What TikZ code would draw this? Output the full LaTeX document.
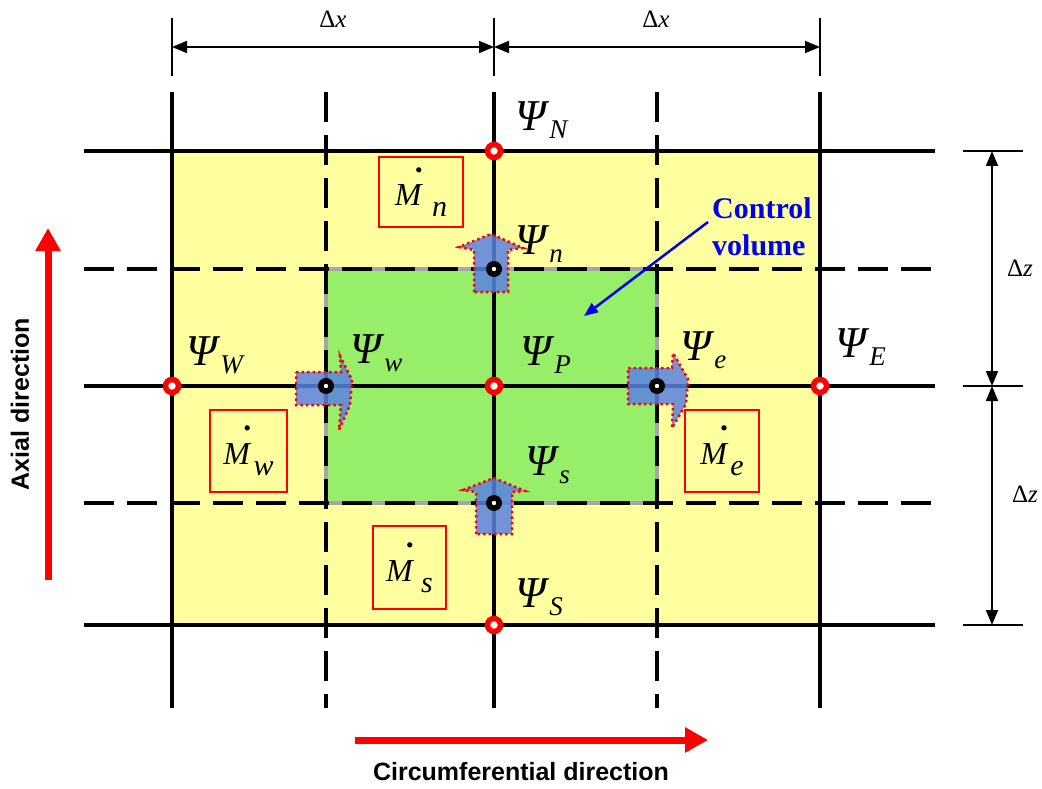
\documentclass[tikz,border=0pt]{standalone}
\usepackage{fontspec}
\setmainfont{Liberation Serif}
\newfontfamily\arialfont{Liberation Sans}
\usetikzlibrary{arrows.meta}
\definecolor{cvyellow}{RGB}{255,255,160}
\definecolor{cvgreen}{RGB}{150,238,105}
\definecolor{fluxblue}{RGB}{90,130,225}
\definecolor{cvblue}{RGB}{0,0,240}
\definecolor{dirred}{RGB}{255,0,0}
\newcommand{\psisub}[1]{\textit{Ψ}\raisebox{-8pt}{\fontsize{27}{29}\selectfont\textit{#1}}}
\newcommand{\mdotsub}[2]{\rlap{\hspace{0.62em}\raisebox{1.05em}{\textbf{.}}}\textit{M}\hspace{#2}\raisebox{-11pt}{\fontsize{30}{32}\selectfont\textit{#1}}}
\begin{document}
\begin{tikzpicture}[x=1pt,y=-1pt,
  gsolid/.style={line width=4.2pt,black},
  gdash/.style={line width=4pt,black,dash pattern=on 30pt off 13pt},
  dimline/.style={line width=1.8pt,{Triangle[length=15pt,width=12pt]}-{Triangle[length=15pt,width=12pt]}},
  dimtick/.style={line width=1.5pt},
  redpt/.style={circle,draw=red,fill=white,line width=5.5pt,minimum size=13pt,inner sep=0pt},
  blkpt/.style={circle,fill=black,minimum size=16pt,inner sep=0pt,
    path picture={\fill[white] (path picture bounding box.center) circle (2.2pt);}},
  flux/.style={fill=fluxblue,fill opacity=0.85,draw=red,draw opacity=1,line width=2.5pt,dash pattern=on 2.5pt off 3pt},
  mbox/.style={draw=red,line width=1.8pt,inner sep=0pt,font=\fontsize{32}{34}\selectfont},
  psi/.style={anchor=base west,inner sep=0pt,font=\fontsize{44}{46}\selectfont},
  dimlab/.style={inner sep=0pt,font=\fontsize{25}{27}\selectfont},
  dirarrow/.style={draw=dirred,line width=7pt,-{Triangle[length=23pt,width=24pt]}},
  dirlab/.style={inner sep=0pt,font=\arialfont\bfseries\fontsize{25}{28}\selectfont},
]
\useasboundingbox (0,0) rectangle (1042,789);

% grid coordinates
\coordinate (x1) at (172,0); \coordinate (x2) at (326,0); \coordinate (x3) at (494,0);
\coordinate (x4) at (657,0); \coordinate (x5) at (820,0);
\coordinate (y1) at (0,151); \coordinate (y2) at (0,269); \coordinate (y3) at (0,386);
\coordinate (y4) at (0,503); \coordinate (y5) at (0,625);
\coordinate (L) at (84,0); \coordinate (R) at (935,0);
\coordinate (T) at (0,92); \coordinate (B) at (0,708);

% shaded regions
\fill[cvyellow] (x1|-y1) rectangle (x5|-y5);
\fill[cvgreen] (x2|-y2) rectangle (x4|-y4);
\draw[gray!70,line width=4pt] (x2|-y2) rectangle (x4|-y4);

% grid lines
\foreach \yy in {y1,y3,y5} {\draw[gsolid] (L|-\yy) -- (R|-\yy);}
\foreach \xx in {x1,x3,x5} {\draw[gsolid] (\xx|-T) -- (\xx|-B);}
\foreach \yy in {y2,y4} {\draw[gdash] (L|-\yy) -- (R|-\yy);}
\foreach \xx in {x2,x4} {\draw[gdash] (\xx|-T) -- (\xx|-B);}

% flux arrows
\draw[flux] (474,292) -- (474,250) -- (459,247) -- (491,234) -- (523,248) -- (508,250) -- (508,292) -- cycle;
\draw[flux] (476,534) -- (476,492) -- (463,490) -- (494,478) -- (525,491) -- (512,492) -- (512,534) -- cycle;
\draw[flux] (296,372) -- (341,372) -- (340,356) -- (352,380) -- (350,405) -- (339,430) -- (341,405) -- (296,405) -- cycle;
\draw[flux] (628,368) -- (672,368) -- (673,353) -- (688,379) -- (686,404) -- (672,428) -- (673,404) -- (628,404) -- cycle;

% points
\node[redpt] (N) at (x3|-y1) {};
\node[redpt] (W) at (x1|-y3) {};
\node[redpt] (P) at (x3|-y3) {};
\node[redpt] (E) at (x5|-y3) {};
\node[redpt] (S) at (x3|-y5) {};
\node[blkpt] (n) at (x3|-y2) {};
\node[blkpt] (w) at (x2|-y3) {};
\node[blkpt] (e) at (x4|-y3) {};
\node[blkpt] (s) at (x3|-y4) {};

% Psi labels
\node[psi] (lN) at (515,131) {\psisub{N}};
\node[psi] (ln) at (515,254) {\psisub{n}};
\node[psi] (lW) at (186,365) {\psisub{W}};
\node[psi] (lw) at (350,363) {\psisub{w}};
\node[psi] (lP) at (520,365) {\psisub{P}};
\node[psi] (le) at (680,360) {\psisub{e}};
\node[psi] (lE) at (835,357) {\psisub{E}};
\node[psi] (ls) at (525,475) {\psisub{s}};
\node[psi] (lS) at (515,607) {\psisub{S}};

% mass flow boxes
\node[mbox,minimum width=84pt,minimum height=70pt] (Mn) at (421,192) {\mdotsub{n}{9pt}};
\node[mbox,minimum width=77pt,minimum height=82pt] (Mw) at (248.5,451) {\mdotsub{w}{2pt}};
\node[mbox,minimum width=74pt,minimum height=82pt] (Me) at (722,451) {\mdotsub{e}{2pt}};
\node[mbox,minimum width=73pt,minimum height=83pt] (Ms) at (409.5,567.5) {\mdotsub{s}{7pt}};

% control volume label
\node[anchor=base west,inner sep=0pt,text=cvblue,font=\bfseries\fontsize{30}{37}\selectfont,align=left] (cv) at (712,255) {Control\\volume};
\coordinate (cvtip) at (584,316);
\draw[cvblue,line width=2.5pt,-{Triangle[length=14pt,width=11pt]}] (708,222) -- (cvtip);

% top dimensions
\coordinate (tt) at (0,18); \coordinate (tb) at (0,76); \coordinate (ta) at (0,47);
\foreach \xx in {x1,x3,x5} {\draw[dimtick] (\xx|-tt) -- (\xx|-tb);}
\draw[dimline] (x1|-ta) -- (x3|-ta);
\draw[dimline] (x3|-ta) -- (x5|-ta);
\node[dimlab] (dx1) at (333,19) {Δ\textit{x}};
\node[dimlab] (dx2) at (656,19) {Δ\textit{x}};

% right dimensions
\coordinate (rl) at (963,0); \coordinate (rr) at (1023,0); \coordinate (ra) at (992,0);
\foreach \yy in {y1,y3,y5} {\draw[dimtick] (rl|-\yy) -- (rr|-\yy);}
\draw[dimline] (ra|-y1) -- (ra|-y3);
\draw[dimline] (ra|-y3) -- (ra|-y5);
\node[dimlab] (dz1) at (1020,268) {Δ\textit{z}};
\node[dimlab] (dz2) at (1025,494) {Δ\textit{z}};

% direction arrows
\coordinate (ax0) at (48,580); \coordinate (ax1) at (48,228);
\draw[dirarrow] (ax0) -- (ax1);
\node[dirlab,rotate=90] (axlab) at (20,404) {Axial direction};
\coordinate (cf0) at (355,740); \coordinate (cf1) at (708,740);
\draw[dirarrow] (cf0) -- (cf1);
\node[dirlab] (cflab) at (521,772) {Circumferential direction};
\end{tikzpicture}
\end{document}
